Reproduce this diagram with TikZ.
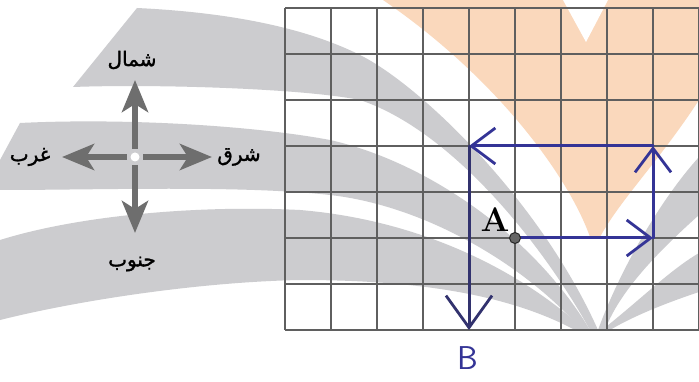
\documentclass[tikz,border=0pt]{standalone}
\usepackage{fontspec}
\usetikzlibrary{arrows.meta}
\newfontfamily\arabicfont[Script=Arabic,FakeBold=1.5]{DejaVu Sans}
\TeXXeTstate=1
\definecolor{bandgray}{RGB}{204,204,207}
\definecolor{bandorange}{RGB}{250,216,188}
\definecolor{gridline}{RGB}{95,95,95}
\definecolor{penblue}{RGB}{52,52,150}
\definecolor{pendark}{RGB}{50,50,110}
\definecolor{compassgray}{RGB}{110,110,110}
\tikzset{
  band/.style={fill=bandgray,draw=none},
  gridstyle/.style={draw=gridline,line width=1.4pt},
  pen/.style={draw=penblue,line width=3pt,line cap=round,
    -{Straight Barb[length=24pt,width=36pt,line width=2.8pt]}},
  penbig/.style={draw=pendark,line width=3pt,line cap=round,
    -{Straight Barb[length=32pt,width=46pt,line width=2.8pt]}},
  compass/.style={draw=compassgray,line width=6pt,
    -{Stealth[length=32pt,width=26pt,inset=8pt]}},
  arlabel/.style={font=\arabicfont\fontsize{20}{20}\selectfont,text=black,inner sep=0pt}
}
\begin{document}
\begin{tikzpicture}[x=1pt,y=-1pt]
\useasboundingbox (0,0) rectangle (699,382);
\fill[white] (0,0) rectangle (699,382);
% background watermark bands
\fill[bandorange] (383,0) -- (699,0) -- (699,100)
  .. controls (660,160) and (620,200) .. (600,237) -- (590,237)
  .. controls (570,180) and (500,80) .. cycle;
\fill[white] (563,0) -- (608,0) -- (586,42) -- cycle;
\path[band] (137,8) .. controls (220,12) and (300,25) .. (360,55)
  .. controls (420,85) and (540,200) .. (598,330) -- (590,330)
  .. controls (540,240) and (450,130) .. (360,100)
  .. controls (300,88) and (150,84) .. (73,87) -- cycle;
\path[band] (20,123) .. controls (120,118) and (250,125) .. (330,140)
  .. controls (420,160) and (530,230) .. (590,330) -- (582,330)
  .. controls (520,260) and (420,205) .. (330,195)
  .. controls (240,185) and (100,190) .. (0,190) -- (0,160) -- cycle;
\path[band] (0,240) .. controls (80,215) and (200,205) .. (300,210)
  .. controls (420,220) and (520,270) .. (585,330) -- (575,330)
  .. controls (500,290) and (400,280) .. (300,280)
  .. controls (200,282) and (80,300) .. (0,320) -- cycle;
\path[band] (699,157) -- (699,215) .. controls (660,250) and (620,290) .. (605,330)
  -- (598,330) .. controls (620,270) and (660,200) .. cycle;
\path[band] (699,253) -- (699,292) .. controls (660,305) and (630,318) .. (610,330)
  -- (602,330) .. controls (640,300) and (670,270) .. cycle;
% grid
\foreach \i in {0,...,9} \draw[gridstyle] (285+46*\i,8) -- (285+46*\i,330);
\foreach \j in {0,...,7} \draw[gridstyle] (285,8+46*\j) -- (699,8+46*\j);
% path points
\coordinate (A) at (515,238);
\coordinate (C1) at (653,238);
\coordinate (C2) at (653,146);
\coordinate (C3) at (469,146);
\coordinate (B) at (469,330);
\draw[pen] (A) -- (C1);
\draw[pen] (C1) -- (C2);
\draw[pen] (C2) -- (C3);
\draw[penbig] (C3) -- (B);
\node[circle,fill=gray!80!black,draw=black!85,line width=1pt,minimum size=11pt,inner sep=0pt] (Adot) at (A) {};
\node[font=\fontsize{34}{34}\selectfont\bfseries,inner sep=0pt] (Alabel) at (495,220) {A};
\node[font=\sffamily\fontsize{33}{33}\selectfont,text=penblue,inner sep=0pt] (Blabel) at (468,358) {B};
% compass
\node[circle,fill=white,minimum size=9pt,inner sep=0pt] (cen) at (135,157) {};
\coordinate (nS) at (135,149); \coordinate (nT) at (135,80);
\coordinate (sS) at (135,165); \coordinate (sT) at (135,233);
\coordinate (eS) at (143,157); \coordinate (eT) at (212,157);
\coordinate (wS) at (127,157); \coordinate (wT) at (62,157);
\draw[compass] (nS) -- (nT);
\draw[compass] (sS) -- (sT);
\draw[compass] (eS) -- (eT);
\draw[compass] (wS) -- (wT);
\node[arlabel] (north) at (132,60) {\beginR شمال\endR};
\node[arlabel] (south) at (132,264) {\beginR جنوب\endR};
\node[arlabel] (west) at (30,157) {\beginR غرب\endR};
\node[arlabel] (east) at (239,157) {\beginR شرق\endR};
\end{tikzpicture}
\end{document}
